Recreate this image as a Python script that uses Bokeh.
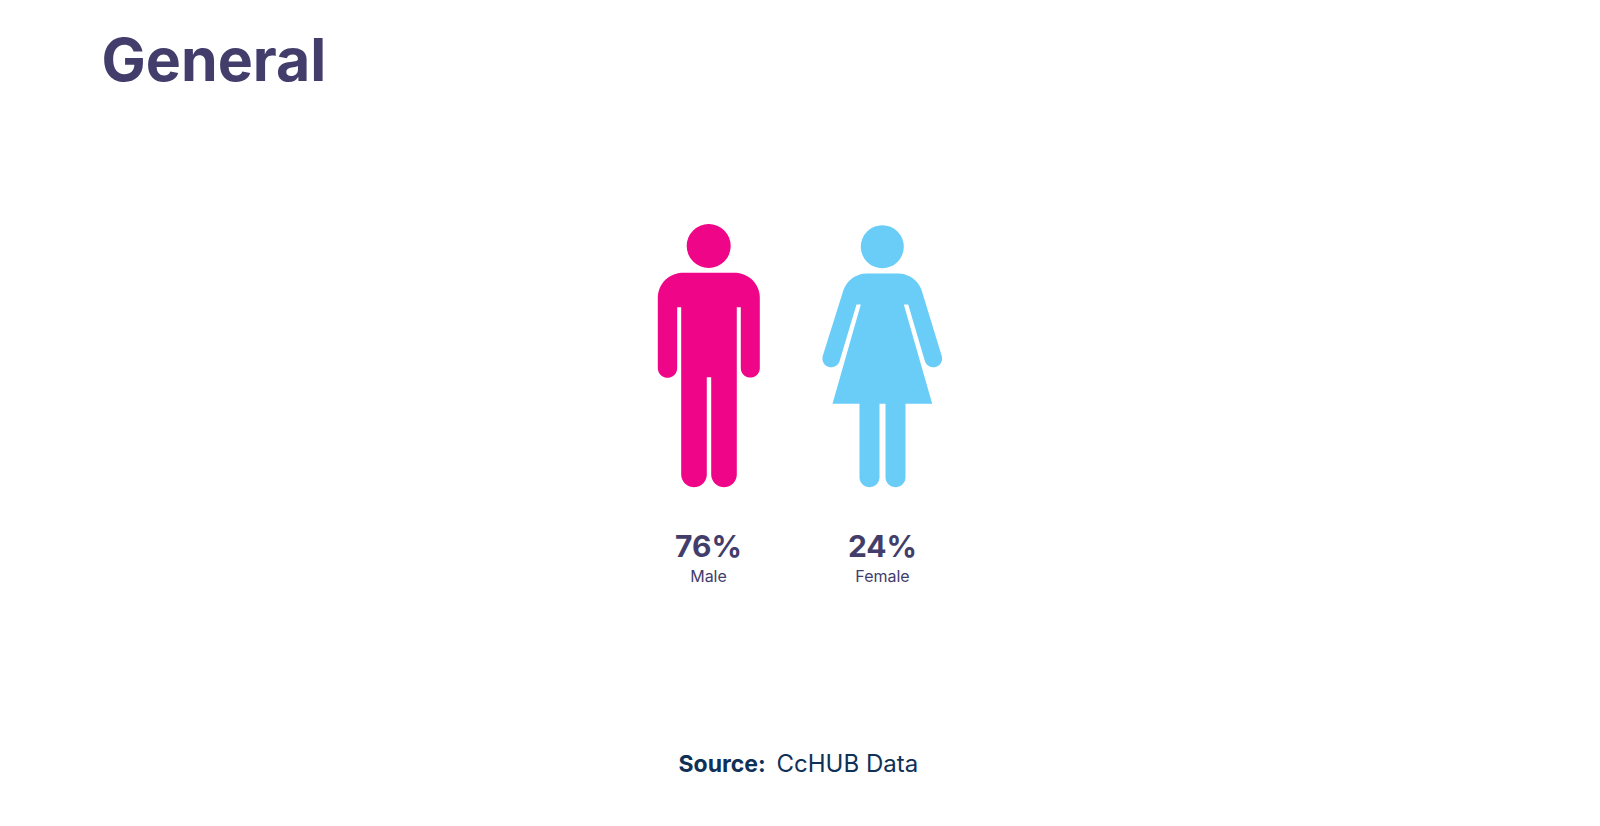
from math import cos, sin, radians
from bokeh.plotting import figure
from bokeh.embed import file_html
from bokeh.resources import INLINE
from bokeh.core.properties import value

categories = ["Male", "Female"]
percentages = [76, 24]
title_text = "General"
source_label = "Source:"
source_name = "CcHUB Data"

PINK = "#EE0588"
BLUE = "#69CDF8"
INK = "#433D6B"
NAVY = "#0F3158"
FONT = "Inter"


def arc(cx, cy, r, a0, a1, n=24):
    return [(cx + r * cos(radians(a0 + (a1 - a0) * i / n)),
             cy + r * sin(radians(a0 + (a1 - a0) * i / n))) for i in range(n + 1)]


def baseline(y, size):
    # Bokeh's SVG text sits about 0.42 em under the requested alphabetic baseline
    return y - 0.42 * size


# Pictogram outlines, in page pixels
male = (
    arc(734.3, 297.3, 25, -90, 0)
    + arc(749.8, 367.6, 9.5, 0, 180)
    + [(740.3, 306.7), (736.3, 306.7)]
    + arc(723.5, 473.9, 12.8, 0, 180)
    + [(710.7, 376.7), (706.3, 376.7)]
    + arc(693.5, 473.9, 12.8, 0, 180)
    + [(680.7, 306.7), (676.7, 306.7)]
    + arc(667.0, 367.6, 9.7, 0, 180)
    + arc(682.3, 297.3, 25, 180, 270)
)
female = (
    arc(897.5, 298.0, 25, -90, -18)
    + arc(932.8, 358.0, 8.8, -18, 162)
    + [(907.7, 304), (903.3, 304), (931.7, 403.3), (905, 403.3)]
    + arc(895, 476.7, 10, 0, 180)
    + [(885, 403.3), (879, 403.3)]
    + arc(869, 476.7, 10, 0, 180)
    + [(859, 403.3), (832, 403.3), (860.3, 304), (856, 304)]
    + arc(830.7, 358.0, 8.8, 18, 198)
    + arc(866.5, 298.0, 25, 198, 270)
)

p = figure(width=1584, height=810, x_range=(0, 1584), y_range=(810, 0),
           output_backend="svg", toolbar_location=None, min_border=0,
           outline_line_color=None, background_fill_color="white")
p.xaxis.visible = False
p.yaxis.visible = False
p.grid.visible = False

p.patch([q[0] for q in male], [q[1] for q in male], fill_color=PINK, line_color=None)
p.patch([q[0] for q in female], [q[1] for q in female], fill_color=BLUE, line_color=None)
p.circle(x=[708.2], y=[245.5], radius=22, fill_color=PINK, line_color=None)
p.circle(x=[881.8], y=[246.2], radius=21.5, fill_color=BLUE, line_color=None)

centers = [708, 882]
p.text(x=centers, y=[baseline(558, 30)] * 2, text=[f"{v}%" for v in percentages],
       text_font=value(FONT), text_font_size="30px", text_font_style="bold",
       text_color=INK, text_align="center", text_baseline="alphabetic")
p.text(x=centers, y=[baseline(582, 16)] * 2, text=categories,
       text_font=value(FONT), text_font_size="16px", text_color=INK,
       text_align="center", text_baseline="alphabetic")
p.text(x=[101], y=[baseline(84, 59)], text=[title_text],
       text_font=value(FONT), text_font_size="59px", text_font_style="bold",
       text_color=INK, text_align="left", text_baseline="alphabetic")
p.text(x=[678], y=[baseline(773, 23)], text=[source_label],
       text_font=value(FONT), text_font_size="23px", text_font_style="bold",
       text_color=NAVY, text_align="left", text_baseline="alphabetic")
p.text(x=[776], y=[baseline(773, 24)], text=[source_name],
       text_font=value(FONT), text_font_size="24px",
       text_color=NAVY, text_align="left", text_baseline="alphabetic")

open("out.html", "w").write(file_html(p, INLINE))
